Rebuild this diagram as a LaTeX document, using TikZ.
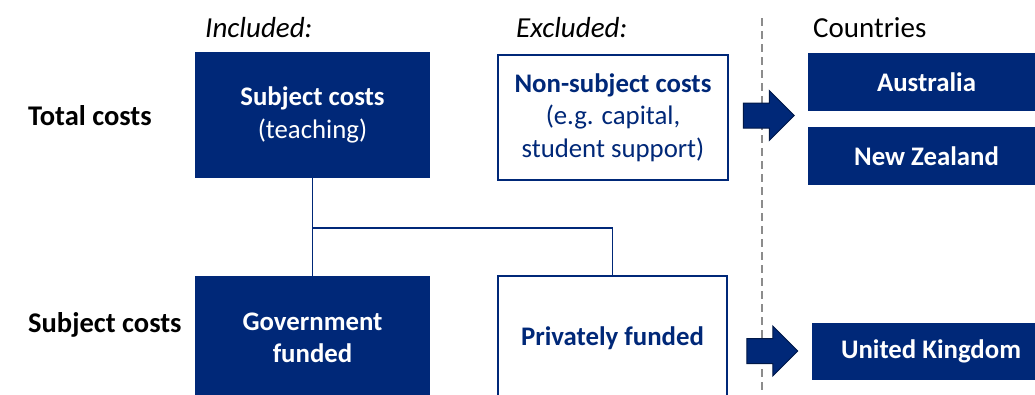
\documentclass[tikz,border=0pt]{standalone}
\usepackage{fontspec}
\setmainfont{Carlito}
\usepackage{xcolor}
\definecolor{navyblue}{RGB}{0,40,120}
\definecolor{dashgrey}{RGB}{140,140,140}
\usetikzlibrary{positioning,shapes.arrows}

\begin{document}
\begin{tikzpicture}[x=1pt, y=-1pt, font=\fontsize{29}{34}\selectfont,
  filled/.style = {rectangle, fill=navyblue, text=white, font=\fontsize{26.8}{32.5}\selectfont\bfseries, align=center, inner sep=0pt},
  outlined/.style = {rectangle, draw=navyblue, line width=1.6pt, fill=white, text=navyblue, font=\fontsize{26.8}{32.5}\selectfont\bfseries, align=center, inner sep=0pt},
  rowlabel/.style = {anchor=west, font=\fontsize{28.5}{34}\selectfont\bfseries, inner sep=0pt},
  colhead/.style = {anchor=west, inner sep=0pt},
  bigarrow/.style = {single arrow, fill=navyblue, draw=navyblue!60!black, line width=1pt, inner ysep=12pt, inner xsep=0pt, minimum height=51pt, single arrow head extend=12.5pt, single arrow head indent=0pt},
  link/.style = {draw=navyblue, line width=1.6pt}]

\useasboundingbox (0,0) rectangle (1035,394);
\clip (0,0) rectangle (1035,394);

% column headings
\node[colhead] (inc) at (205,28) {\itshape Included:};
\node[colhead] (exc) at (516,28) {\itshape Excluded:};
\node[colhead] (cty) at (813,28) {Countries};

% row labels
\node[rowlabel] (total) at (28,116) {Total costs};
\node[rowlabel] (subjrow) at (28,325) {Subject costs};

% boxes
\node[filled, minimum width=235pt, minimum height=126pt] (subj) at (312.5,115) {Subject costs\\{\mdseries(teaching)}};
\node[outlined, minimum width=230pt, minimum height=125pt] (nonsubj) at (613,117.5) {Non-subject costs\\{\mdseries(e.g. capital,}\\{\mdseries student support)}};
\node[filled, minimum width=235pt, minimum height=124pt] (gov) at (312.5,338) {Government\\funded};
\node[outlined, minimum width=229pt, minimum height=124pt] (priv) at (612.5,338) {Privately funded};

% countries
\node[filled, minimum width=237pt, minimum height=58pt] (aus) at (926.5,82) {Australia};
\node[filled, minimum width=237pt, minimum height=58pt] (nz) [below=16pt of aus] {New Zealand};
\node[filled, minimum width=238pt, minimum height=57pt] (uk) at (931,351.5) {United Kingdom};

% divider
\coordinate (top) at (762,18);
\coordinate (bot) at (762,394);
\draw[dashgrey, line width=1.3pt, dash pattern=on 8pt off 5pt] (top) -- (bot);

% block arrows
\node[bigarrow] (a1) at (762.5,115.5) {};
\node[bigarrow] (a2) at (766,351) {};

% connectors
\coordinate (split) at (313,228);
\path[link] (subj) -- (gov);
\path[link] (split) -| (priv.north);
\end{tikzpicture}
\end{document}
